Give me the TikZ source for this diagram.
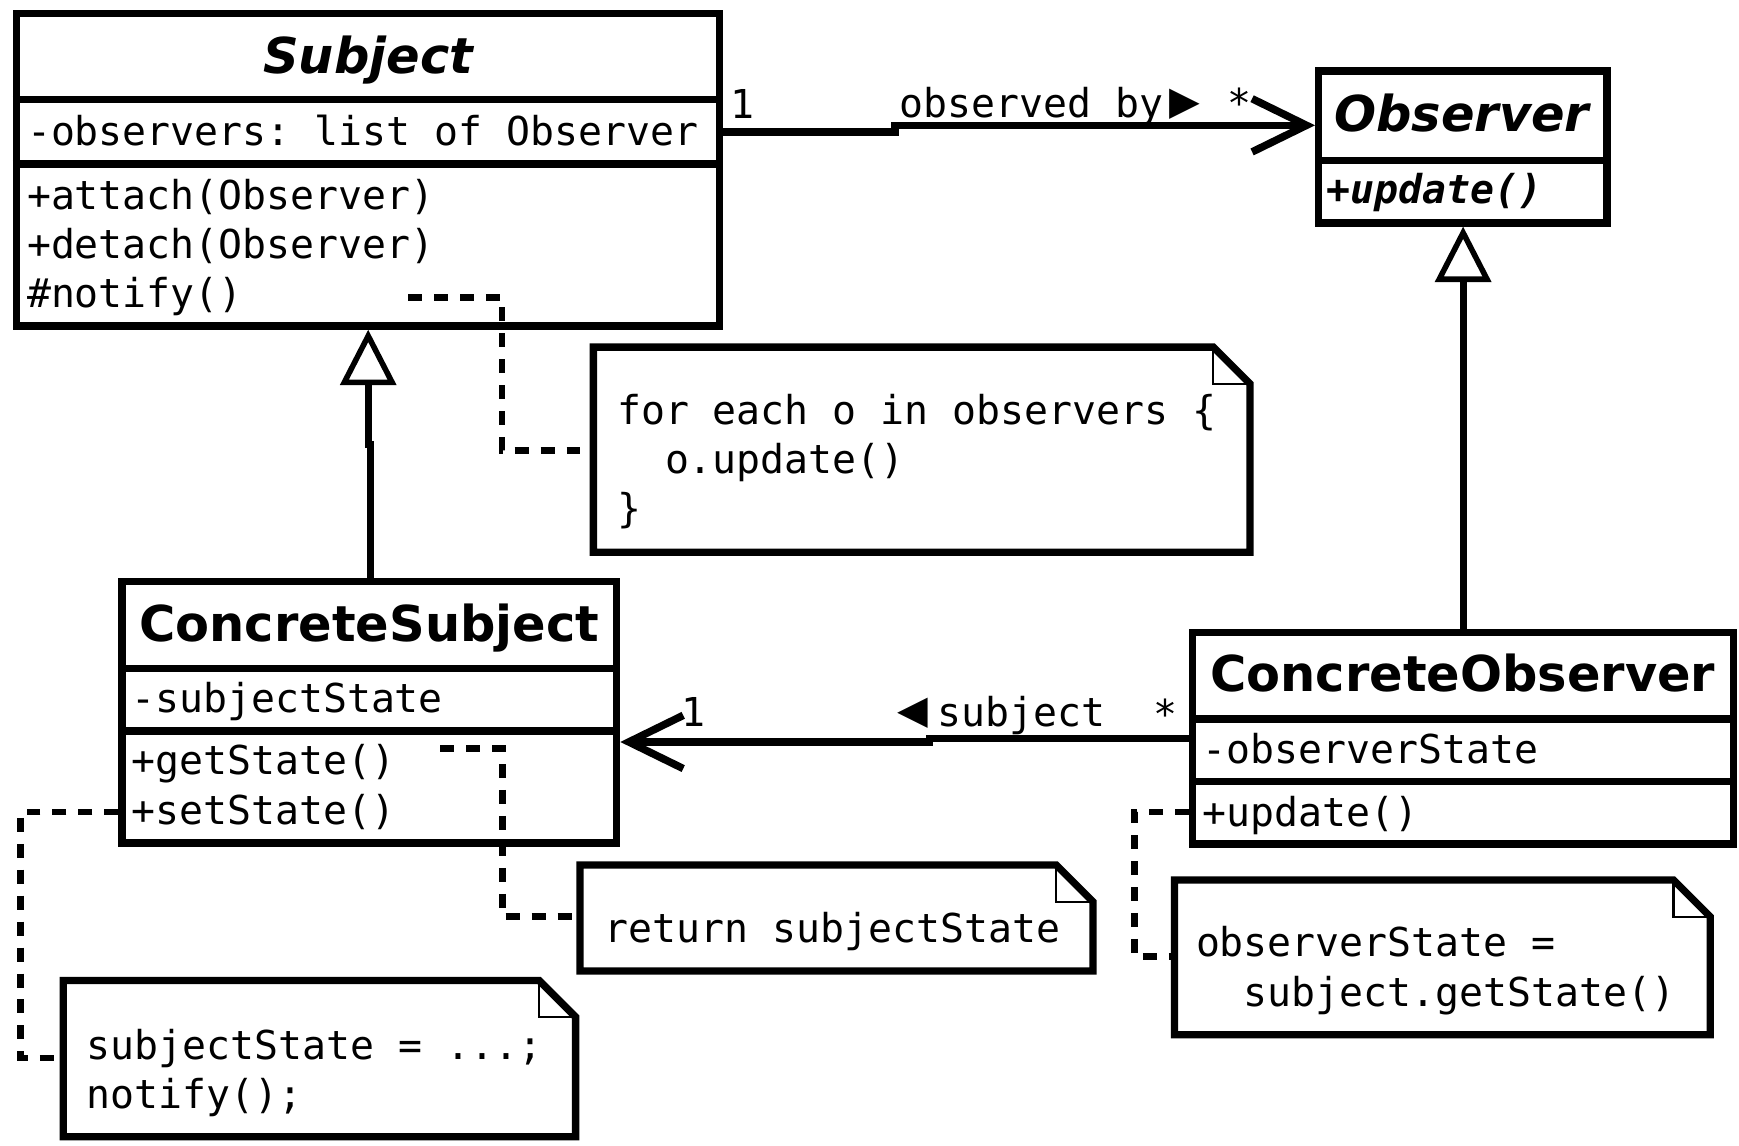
\documentclass[tikz,border=0pt]{standalone}
\usepackage{fontspec}
\setmonofont{DejaVu Sans Mono}[BoldFont={DejaVu Sans Mono Bold},ItalicFont={DejaVu Sans Mono Oblique},BoldItalicFont={DejaVu Sans Mono Bold Oblique}]
\newfontfamily\dejavu{DejaVu Sans}[BoldFont={DejaVu Sans Bold},ItalicFont={DejaVu Sans Oblique},BoldItalicFont={DejaVu Sans Bold Oblique}]
\usetikzlibrary{arrows.meta}
\newcommand\umlnote[1]{%
  \draw[noteline] (#1.north west) -- ([xshift=-16.5pt]#1.north east) -- ([yshift=-16.5pt]#1.north east) -- (#1.south east) -- (#1.south west) -- cycle;
  \draw[foldline] ([xshift=-16.5pt]#1.north east) |- ([yshift=-16.5pt]#1.north east);}
\newcommand\bigtri[1]{{\fontsize{23pt}{23pt}\selectfont #1}}
\begin{document}
\begin{tikzpicture}[x=0.5pt,y=-0.5pt,
  classbox/.style={draw, fill=white, line width=3.3pt, inner sep=0pt},
  boxline/.style={line width=3.3pt},
  notebox/.style={inner sep=0pt, outer sep=0pt},
  noteline/.style={line width=3.3pt, fill=white, line join=miter},
  foldline/.style={line width=1pt},
  mono/.style={font=\fontsize{17.95pt}{21pt}\selectfont\ttfamily},
  txt/.style={mono, anchor=base west, inner sep=0pt},
  btxt/.style={txt, font=\fontsize{17.95pt}{21pt}\selectfont\ttfamily\bfseries\itshape},
  mult/.style={mono, anchor=base, inner sep=0pt},
  ctitle/.style={font=\fontsize{22.3pt}{26pt}\selectfont\dejavu\bfseries, anchor=base, inner sep=0pt},
  atitle/.style={ctitle, font=\fontsize{22.3pt}{26pt}\selectfont\dejavu\bfseries\itshape},
  assoc/.style={line width=3.4pt, -{Straight Barb[length=24.5pt,width=24pt]}},
  gen/.style={line width=3.2pt, -{Triangle[open,length=25pt,width=25pt,line width=2.5pt]}},
  dep/.style={line width=3pt, dash pattern=on 6.3pt off 5.4pt}]
\fill[white] (0,0) rectangle (1568,1033);
\useasboundingbox (0,0) rectangle (1568,1033);

% Subject
\node[classbox, minimum width=317pt, minimum height=141pt] (subject) at (332,153) {};
\draw[boxline] (subject.west |- 0,90) -- (subject.east |- 0,90);
\draw[boxline] (subject.west |- 0,148) -- (subject.east |- 0,148);
\node[atitle] (subjectT) at (332,66) {Subject};
\node[txt] (subjectA) at (24,131) {-observers: list of Observer};
\node[txt] (subjectM1) at (24,188.5) {+attach(Observer)};
\node[txt] (subjectM2) at (24,233) {+detach(Observer)};
\node[txt] (subjectM3) at (24,277.5) {\#notify()};

% Observer
\node[classbox, minimum width=130pt, minimum height=68.5pt] (observer) at (1319,132.5) {};
\draw[boxline] (observer.west |- 0,145) -- (observer.east |- 0,145);
\node[atitle] (observerT) at (1318,118.5) {Observer};
\node[btxt] (observerM) at (1196,183.5) {+update()};

% ConcreteSubject
\node[classbox, minimum width=223pt, minimum height=117.75pt] (concreteSubject) at (333,642.25) {};
\draw[boxline] (concreteSubject.west |- 0,602.5) -- (concreteSubject.east |- 0,602.5);
\draw[boxline] (concreteSubject.west |- 0,659) -- (concreteSubject.east |- 0,659);
\node[ctitle] (concreteSubjectT) at (333,578) {ConcreteSubject};
\node[txt] (concreteSubjectA) at (118,642) {-subjectState};
\node[txt] (concreteSubjectM1) at (118,698.5) {+getState()};
\node[txt] (concreteSubjectM2) at (118,743.5) {+setState()};

% ConcreteObserver
\node[classbox, minimum width=243.75pt, minimum height=95.25pt] (concreteObserver) at (1319.25,665.75) {};
\draw[boxline] (concreteObserver.west |- 0,648.3) -- (concreteObserver.east |- 0,648.3);
\draw[boxline] (concreteObserver.west |- 0,704.8) -- (concreteObserver.east |- 0,704.8);
\node[ctitle] (concreteObserverT) at (1319,623.5) {ConcreteObserver};
\node[txt] (concreteObserverA) at (1084,688.5) {-observerState};
\node[txt] (concreteObserverM) at (1084,745) {+update()};

% associations
\draw[assoc] (subject.east |- 0,119) -- (807,119) -- (807,113) -- (observer.west |- 0,113);
\node[txt] (mult1) at (658,106.5) {1};
\node[txt] (assocL1) at (811,105.5) {observed by\hspace{2.5pt}\bigtri{▶}};
\node[mult] (mult2) at (1118,106) {*};

\draw[assoc] (concreteObserver.west |- 0,666) -- (838,666) -- (838,669) -- (concreteSubject.east |- 0,669);
\node[txt] (mult3) at (614,655.5) {1};
\node[txt] (assocL2) at (809,655.5) {\bigtri{◀}\hspace{4pt}subject};
\node[mult] (mult4) at (1050.5,657) {*};

% generalizations
\draw[gen] (concreteSubject.north -| 334,0) -- (334,401) -- (332,401) -- (subject.south -| 332,0);
\draw[gen] (concreteObserver.north) -- (concreteObserver.north |- observer.south);

% note anchors
\node[notebox, minimum width=296pt, minimum height=92.5pt] (n1) at (831,405.5) {};
\node[notebox, minimum width=231.25pt, minimum height=47.75pt] (n2) at (754.25,827.75) {};
\node[notebox, minimum width=231pt, minimum height=70.5pt] (n3) at (288,954.5) {};
\node[notebox, minimum width=241.5pt, minimum height=69.75pt] (n4) at (1300.5,863.25) {};

% dependencies (dashed)
\coordinate (d1s) at (368,268);
\coordinate (d2s) at (397,675);
\draw[dep] (d1s) -- (452.5,268) -- (452.5,406) -- (n1.west |- 0,406);
\draw[dep] (d2s) -- (453.3,675) -- (453.3,826.6) -- (n2.west |- 0,826.6);
\draw[dep] (concreteSubject.west |- 0,732) -- (18.5,732) -- (18.5,954) -- (n3.west |- 0,954);
\draw[dep] (concreteObserver.west |- 0,732) -- (1023,732) -- (1023,862.5) -- (n4.west |- 0,862.5);

% notes
\umlnote{n1}
\node[txt] (n1a) at (556,382.5) {for each o in observers \{};
\node[txt] (n1b) at (556,427) {\hphantom{xx}o.update()};
\node[txt] (n1c) at (556,471.5) {\}};
\umlnote{n2}
\node[txt] (n2a) at (545,849.5) {return subjectState};
\umlnote{n3}
\node[txt] (n3a) at (78,955) {subjectState = ...;};
\node[txt] (n3b) at (78,999.5) {notify();};
\umlnote{n4}
\node[txt] (n4a) at (1078,862.5) {observerState =};
\node[txt] (n4b) at (1078,907.5) {\hphantom{xx}subject.getState()};
\end{tikzpicture}
\end{document}
